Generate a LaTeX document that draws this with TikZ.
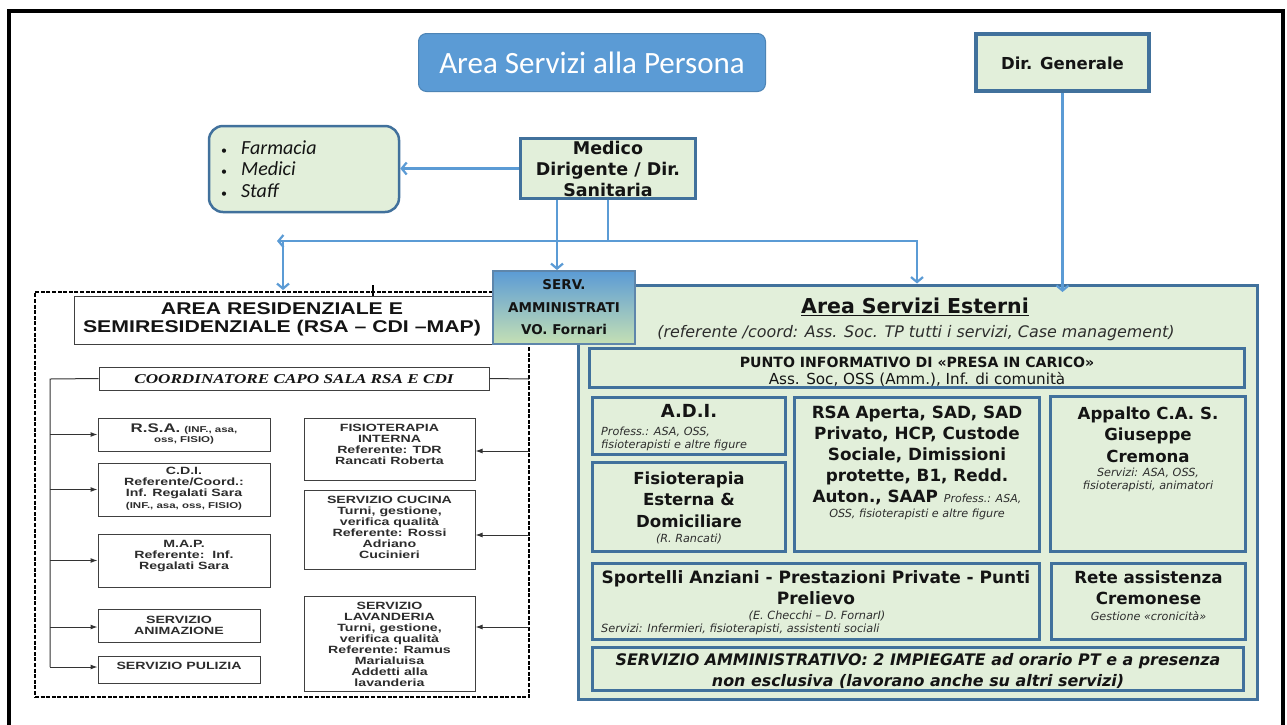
\documentclass[tikz,border=0pt]{standalone}
\usepackage{fontspec}
\usetikzlibrary{arrows.meta}
\setmainfont{DejaVu Sans}
\newfontfamily\tah{DejaVu Sans}
\newfontfamily\calib{Carlito}
\newfontfamily\arl[FakeStretch=1.25]{Liberation Sans}
\newfontfamily\arlw[FakeStretch=1.35]{Liberation Sans}
\newfontfamily\tnr[FakeStretch=1.27]{Liberation Serif}
\newcommand\fsz[2]{\fontsize{#1}{#2}\selectfont}
\definecolor{lgreen}{RGB}{226,239,218}
\definecolor{bblue}{RGB}{65,113,156}
\definecolor{ablue}{RGB}{91,155,213}
\definecolor{ggreen}{RGB}{197,224,180}
\definecolor{dgray}{RGB}{45,45,45}
\definecolor{tblack}{RGB}{20,20,20}
\begin{document}
\begin{tikzpicture}[x=1pt,y=-1pt,
  gbox/.style={draw=bblue, line width=3.5pt, fill=lgreen, inner sep=0pt},
  wbox/.style={draw=black!75, line width=1pt, fill=white, inner sep=0pt},
  txt/.style={inner sep=0pt, align=center, text=tblack},
  stxt/.style={inner sep=0pt, align=center, text=dgray},
  bl/.style={draw=ablue, line width=2.2pt},
  btip/.style={-{Straight Barb[length=5pt,width=12pt]}},
  kline/.style={draw=black!80, line width=1pt},
  karrow/.style={draw=black!80, line width=1pt, -{Latex[length=7pt,width=5pt]}},
  lefttxt/.style={inner sep=0pt, align=center, text=dgray, font=\arlw\bfseries\fsz{10.5}{11}}
]
\useasboundingbox (0,0) rectangle (1287,724);
\fill[white] (0,0) rectangle (1287,724);
% outer frame
\draw[line width=3.5pt, black] (9,730) -- (9,11) -- (1283,11) -- (1283,730);

% ---------- top ----------
\node[draw=ablue!85!black, line width=1pt, fill=ablue, rounded corners=8pt, minimum width=347pt, minimum height=58pt, inner sep=0pt] (title) at (592,62.5) {};
\node[txt, text=white, font=\calib\fsz{31}{34}] (titletxt) at (592,63) {Area Servizi alla Persona};

\node[gbox, minimum width=173pt, minimum height=57pt] (dirgen) at (1062.5,62.5) {};
\node[txt, font=\tah\bfseries\fsz{16.5}{18}] (dirgentxt) at (1062.5,63) {Dir. Generale};

\node[draw=bblue, line width=2.5pt, fill=lgreen, rounded corners=14pt, minimum width=190pt, minimum height=86pt, inner sep=0pt] (farm) at (304,169) {};
\node[inner sep=0pt, anchor=west, align=left, text=tblack, font=\calib\fsz{20}{21.5}] (farmtxt) at (221,169)
  {\makebox[20pt][l]{\fsz{12}{12}\textbullet}\textit{Farmacia}\\\makebox[20pt][l]{\fsz{12}{12}\textbullet}\textit{Medici}\\\makebox[20pt][l]{\fsz{12}{12}\textbullet}\textit{Staff}};

\node[gbox, minimum width=175pt, minimum height=60pt] (medico) at (608,168.5) {};
\node[txt, font=\tah\bfseries\fsz{17.5}{21}] (medicotxt) at (608,169) {Medico\\Dirigente / Dir.\\Sanitaria};

% ---------- left area ----------
\node[draw=black, line width=2.6pt, dash pattern=on 4pt off 1.6pt, minimum width=494pt, minimum height=405pt, inner sep=0pt] (resarea) at (282,494.5) {};
\draw[black, line width=1.2pt] (373,285) -- (373,299);

\node[wbox, minimum width=419pt, minimum height=48pt] (areares) at (283.5,320) {};
\node[txt, font=\arl\bfseries\fsz{17}{18.5}] (arearestxt) at (282,319.5) {AREA RESIDENZIALE E\\SEMIRESIDENZIALE (RSA – CDI –MAP)};

\node[wbox, minimum width=390pt, minimum height=23pt] (coord) at (294,378.5) {};
\node[txt, font=\tnr\bfseries\itshape\fsz{13.5}{14}] (coordtxt) at (294,379) {COORDINATORE CAPO SALA RSA E CDI};

\node[wbox, minimum width=172pt, minimum height=33pt] (rsa) at (184,434.5) {};
\node[lefttxt] (rsatxt) at (184,434.5) {{\fsz{12.5}{12}R.S.A.} {\fsz{8.5}{10}(INF., asa,}\\[-1pt]{\fsz{8.5}{10}oss, FISIO)}};

\node[wbox, minimum width=172pt, minimum height=53pt] (cdi) at (184,489.5) {};
\node[lefttxt] (cditxt) at (184,483) {C.D.I.\\Referente/Coord.:\\Inf. Regalati Sara};
\node[lefttxt, font=\arlw\bfseries\fsz{8.5}{10}] (cdisub) at (184,506) {(INF., asa, oss, FISIO)};

\node[wbox, minimum width=172pt, minimum height=53pt] (map) at (184,560.5) {};
\node[lefttxt] (maptxt) at (184,556) {M.A.P.\\Referente:\ \ Inf.\\Regalati Sara};

\node[wbox, minimum width=162pt, minimum height=33pt] (anim) at (179,625.5) {};
\node[lefttxt] (animtxt) at (179,625) {SERVIZIO\\ANIMAZIONE};

\node[wbox, minimum width=162pt, minimum height=27pt] (pul) at (179,669.5) {};
\node[lefttxt] (pultxt) at (179,666) {SERVIZIO PULIZIA};

\node[wbox, minimum width=171pt, minimum height=62pt] (fisint) at (389.5,449) {};
\node[lefttxt] (fisinttxt) at (389.5,444.5) {FISIOTERAPIA\\INTERNA\\Referente: TDR\\Rancati Roberta};

\node[wbox, minimum width=171pt, minimum height=79pt] (cucina) at (389.5,529.5) {};
\node[lefttxt] (cucinatxt) at (389.5,527) {SERVIZIO CUCINA\\Turni, gestione,\\verifica qualità\\Referente: Rossi\\Adriano\\Cucinieri};

\node[wbox, minimum width=171pt, minimum height=95pt] (lav) at (389.5,643.5) {};
\node[lefttxt] (lavtxt) at (389.5,644.5) {SERVIZIO\\LAVANDERIA\\Turni, gestione,\\verifica qualità\\Referente: Ramus\\Marialuisa\\Addetti alla\\lavanderia};

% left connectors
\coordinate (lt) at (50,379);
\coordinate (lb) at (50,667);
\draw[kline] (coord.west) -- (lt) -- (lb);
\draw[karrow] (lt |- rsa.west) -- (rsa.west);
\draw[karrow] (lt |- cdi.west) -- (cdi.west);
\draw[karrow] (lt |- map.west) -- (map.west);
\coordinate (la) at (50,627);
\draw[karrow] (la) -- (la -| anim.west);
\draw[karrow] (lb) -- (lb -| pul.west);
% right connectors
\coordinate (rt) at (529,379);
\draw[kline] (coord.east) -- (rt);
\coordinate (r1) at (529,451);
\coordinate (r2) at (529,535);
\coordinate (r3) at (529,627);
\draw[karrow] (r1) -- (r1 -| fisint.east);
\draw[karrow] (r2) -- (r2 -| cucina.east);
\draw[karrow] (r3) -- (r3 -| lav.east);

% ---------- right area ----------
\node[draw=bblue, line width=3pt, fill=lgreen, minimum width=679pt, minimum height=414pt, inner sep=0pt] (outer) at (917.5,492) {};
\node[txt, font=\tah\bfseries\fsz{20.5}{24}] (outertitle) at (915,307) {\underline{Area Servizi Esterni}};
\node[stxt, font=\tah\itshape\fsz{15.9}{18}] (outersub) at (916,333) {(referente /coord: Ass. Soc. TP tutti i servizi, Case management)};

\node[gbox, minimum width=655pt, minimum height=39pt] (punto) at (917,368) {};
\node[txt, font=\tah\bfseries\fsz{14.1}{17}] (puntotxt) at (917,362) {PUNTO INFORMATIVO DI «PRESA IN CARICO»};
\node[txt, font=\tah\fsz{15.2}{17}] (puntosub) at (917,379.5) {Ass. Soc, OSS (Amm.), Inf. di comunità};

\node[gbox, minimum width=193pt, minimum height=57pt] (adi) at (689,426) {};
\node[txt, font=\tah\bfseries\fsz{18}{22}] (aditxt) at (689,411) {A.D.I.};
\node[stxt, anchor=west, align=left, font=\tah\itshape\fsz{11.2}{13.5}] (adisub) at (601,439) {Profess.: ASA, OSS,\\fisioterapisti e altre figure};

\node[gbox, minimum width=193pt, minimum height=89pt] (fisest) at (689,507) {};
\node[txt, font=\tah\bfseries\fsz{16.6}{21.5}] (fisesttxt) at (689,499.5) {Fisioterapia\\Esterna \&\\Domiciliare};
\node[stxt, font=\tah\itshape\fsz{11.2}{13}] (fisestsub) at (689,539) {(R. Rancati)};

\node[gbox, minimum width=245pt, minimum height=154pt] (rsaap) at (917,474.5) {};
\node[txt, font=\tah\bfseries\fsz{16.8}{21}] (rsaaptxt) at (917,455.5) {RSA Aperta, SAD, SAD\\Privato, HCP, Custode\\Sociale, Dimissioni\\protette, B1, Redd.\\Auton., SAAP {\mdseries\itshape\color{dgray}\fsz{11}{13}Profess.: ASA,}};
\node[stxt, font=\tah\itshape\fsz{11.2}{13}] (rsaapsub) at (917,514.5) {OSS, fisioterapisti e altre figure};

\node[gbox, minimum width=195pt, minimum height=155pt] (appalto) at (1148,474) {};
\node[txt, font=\tah\bfseries\fsz{16.6}{21.5}] (appaltotxt) at (1148,434.5) {Appalto C.A. S.\\Giuseppe\\Cremona};
\node[stxt, font=\tah\itshape\fsz{11.2}{13.5}] (appaltosub) at (1148,480) {Servizi: ASA, OSS,\\fisioterapisti, animatori};

\node[gbox, minimum width=447pt, minimum height=76pt] (sport) at (816,601.5) {};
\node[txt, font=\tah\bfseries\fsz{17}{21}] (sporttxt) at (816,587.5) {Sportelli Anziani - Prestazioni Private - Punti\\Prelievo};
\node[stxt, font=\tah\itshape\fsz{11.3}{12}] (sportsub) at (817,616) {(E. Checchi – D. FornarI)};
\node[stxt, anchor=west, font=\tah\itshape\fsz{11.3}{12}] (sportsub2) at (601,629) {Servizi: Infermieri, fisioterapisti, assistenti sociali};

\node[gbox, minimum width=194pt, minimum height=76pt] (rete) at (1148.5,601.5) {};
\node[txt, font=\tah\bfseries\fsz{16.7}{21}] (retetxt) at (1148.5,587.5) {Rete assistenza\\Cremonese};
\node[stxt, font=\tah\itshape\fsz{11.2}{12}] (retesub) at (1148.5,616) {Gestione «cronicità»};

\node[gbox, minimum width=651pt, minimum height=43pt] (amm) at (918,669) {};
\node[txt, font=\tah\bfseries\itshape\fsz{15.9}{21}] (ammtxt) at (918,671) {SERVIZIO AMMINISTRATIVO: 2 IMPIEGATE ad orario PT e a presenza\\non esclusiva (lavorano anche su altri servizi)};

% SERV box (on top)
\node[draw=bblue!85, line width=2pt, top color=ablue, bottom color=ggreen, minimum width=142pt, minimum height=73pt, inner sep=0pt] (serv) at (564,307.5) {};
\node[txt, font=\tah\bfseries\fsz{13.5}{22.5}] (servtxt) at (564,307.5) {SERV.\\AMMINISTRATI\\VO. Fornari};

% ---------- blue connectors ----------
\coordinate (ma) at (557,200);
\coordinate (mb) at (608,200);
\coordinate (hl) at (608,241);
\coordinate (hL) at (277,241);
\coordinate (vl) at (283,241);
\coordinate (vlb) at (283,290);
\coordinate (hr) at (917,241);
\coordinate (dg) at (1062.5,292);
\draw[bl,btip] (medico.west) -- (medico.west -| farm.east);
\draw[bl,btip] (ma) -- (ma |- serv.north);
\draw[bl] (mb) -- (hl);
\draw[bl,btip] (hl) -- (hL);
\draw[bl,btip] (vl) -- (vlb);
\draw[bl,btip] (hl) -- (hr) -- (hr |- outer.north);
\draw[bl,btip] (dirgen.south) -- (dg);
\end{tikzpicture}
\end{document}
